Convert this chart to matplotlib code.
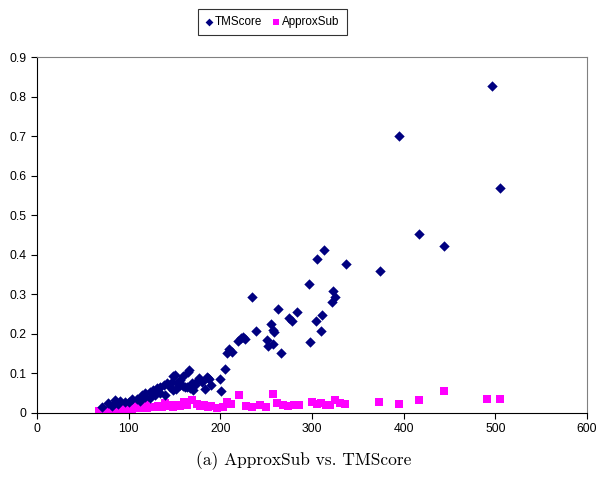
import numpy as np
import matplotlib.pyplot as plt

# TMScore points
tm_x = [496, 395, 505, 417, 444, 374, 313, 305, 337, 234, 297, 323, 325, 322,
        263, 284, 275, 278, 311, 304, 310, 239, 255, 257, 258, 225, 227, 251,
        252, 257, 266, 298, 209, 207, 213, 205, 185, 201, 219, 166, 159, 148,
        177, 186, 180, 142, 153, 156, 159, 164, 167, 170, 145, 148, 131, 134,
        129, 123, 77, 85, 91, 96, 71, 104, 109, 114, 118, 123, 127, 131, 134,
        147, 150, 156, 165, 172, 183, 190, 200, 222, 118, 138, 161, 175, 112,
        100, 88, 82, 140, 152, 169, 188]
tm_y = [0.827, 0.700, 0.569, 0.452, 0.422, 0.359, 0.412, 0.389, 0.376, 0.293,
        0.326, 0.309, 0.293, 0.281, 0.263, 0.255, 0.240, 0.233, 0.248, 0.233,
        0.207, 0.207, 0.225, 0.210, 0.205, 0.192, 0.187, 0.185, 0.169, 0.174,
        0.152, 0.179, 0.162, 0.152, 0.154, 0.111, 0.091, 0.056, 0.182, 0.109,
        0.094, 0.094, 0.088, 0.088, 0.078, 0.076, 0.076, 0.071, 0.068, 0.066,
        0.063, 0.058, 0.066, 0.058, 0.058, 0.051, 0.046, 0.038, 0.025, 0.033,
        0.030, 0.028, 0.015, 0.035, 0.035, 0.046, 0.051, 0.053, 0.058, 0.062,
        0.066, 0.078, 0.096, 0.083, 0.104, 0.070, 0.060, 0.072, 0.085, 0.190,
        0.040, 0.070, 0.065, 0.080, 0.030, 0.028, 0.022, 0.018, 0.045, 0.060,
        0.075, 0.085]

# ApproxSub points
as_x = [444, 373, 395, 417, 491, 505, 220, 257, 336, 325, 207, 169, 68, 72,
        76, 80, 84, 88, 92, 96, 100, 104, 108, 112, 116, 120, 124, 128, 132,
        136, 140, 144, 148, 152, 156, 160, 164, 174, 178, 182, 186, 190, 196,
        203, 212, 228, 235, 243, 250, 262, 268, 274, 280, 286, 300, 305, 310,
        315, 320, 330, 105, 118, 140, 160]
as_y = [0.056, 0.028, 0.023, 0.033, 0.035, 0.035, 0.046, 0.048, 0.023, 0.033,
        0.028, 0.033, 0.005, 0.006, 0.008, 0.007, 0.010, 0.009, 0.012, 0.010,
        0.013, 0.011, 0.014, 0.012, 0.015, 0.013, 0.016, 0.014, 0.018, 0.015,
        0.017, 0.019, 0.016, 0.020, 0.018, 0.021, 0.019, 0.022, 0.017, 0.020,
        0.015, 0.018, 0.012, 0.014, 0.022, 0.018, 0.016, 0.020, 0.015, 0.025,
        0.021, 0.018, 0.020, 0.019, 0.027, 0.022, 0.025, 0.021, 0.020, 0.024,
        0.020, 0.022, 0.025, 0.027]

xticks = [0, 100, 200, 300, 400, 500, 600]
yticks = [0, 0.1, 0.2, 0.3, 0.4, 0.5, 0.6, 0.7, 0.8, 0.9]

plt.rcParams['font.family'] = ['Liberation Sans', 'DejaVu Sans']

fig = plt.figure(figsize=(5.98, 4.82), dpi=100)
ax = fig.add_axes([0.0619, 0.1432, 0.9197, 0.7385])

ax.scatter(as_x, as_y, marker='s', s=26, color='#FF00FF', linewidths=0,
           label='ApproxSub', zorder=2)
ax.scatter(tm_x, tm_y, marker='D', s=28, color='#000080', linewidths=0,
           label='TMScore', zorder=3)

ax.set_xlim(0, 600)
ax.set_ylim(0, 0.9)
ax.set_xticks(xticks)
ax.set_yticks(yticks)
ax.set_xticklabels([str(v) for v in xticks])
ax.set_yticklabels(['0' if v == 0 else '%g' % v for v in yticks])
ax.tick_params(direction='out', length=4, labelsize=8.8, width=0.8)
for s in ['left', 'bottom']:
    ax.spines[s].set_color('black')
for s in ['top', 'right']:
    ax.spines[s].set_color('#808080')

h, l = ax.get_legend_handles_labels()
leg = fig.legend(h[::-1], l[::-1], loc='upper center',
                 bbox_to_anchor=(0.455, 0.993), ncol=2, fontsize=8.4,
                 frameon=True, fancybox=False, handletextpad=0.1,
                 columnspacing=0.8, handlelength=0.8, borderpad=0.6,
                 markerscale=0.75)
leg.get_frame().set_edgecolor('black')
leg.get_frame().set_linewidth(0.8)

fig.text(0.508, 0.045, '(a) ApproxSub vs. TMScore', ha='center',
         va='center', fontsize=12.5, family='cmr10')

fig.savefig('out.png', dpi=100)
